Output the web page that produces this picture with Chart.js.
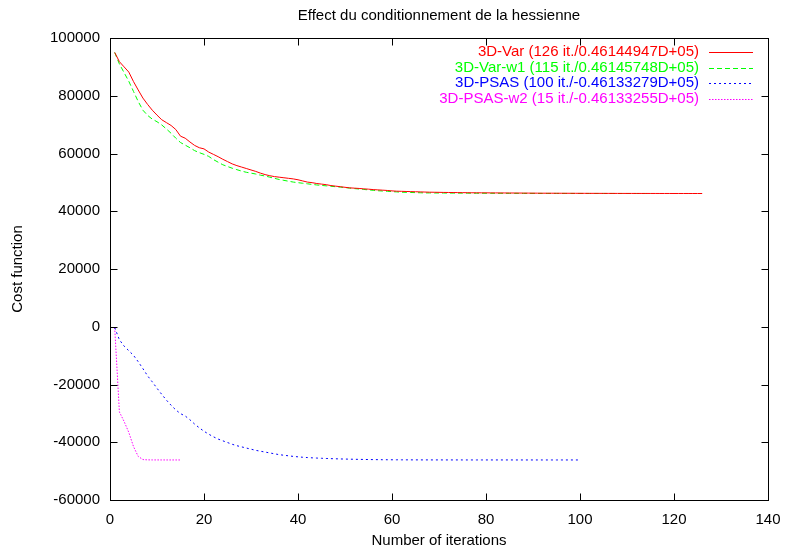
<!DOCTYPE html>
<html>
<head>
<meta charset="utf-8">
<script src="https://cdn.jsdelivr.net/npm/chart.js@4/dist/chart.umd.min.js"></script>
<style>
  body { margin: 0; background: #fff; }
  canvas { display: block; }
</style>
</head>
<body>
<canvas id="chart" width="787" height="550"></canvas>
<script>
// cost per iteration
const var3d = [95000, 91800, 90000, 88200, 84900, 82000, 79200, 77000, 75000, 73300,
  71700, 70700, 69700, 68300, 66000, 65300, 64000, 62800, 62000, 61600,
  60500, 59700, 58900, 58000, 57200, 56400, 55800, 55300, 54800, 54300,
  53800, 53200, 52700, 52300, 52000, 51800, 51600, 51400, 51200, 50900,
  50500, 50100, 49900, 49600, 49400, 49200, 48900, 48700, 48500, 48300,
  48100, 48000, 47900, 47750, 47650, 47500, 47400, 47300, 47200, 47050,
  46950, 46900, 46850, 46800, 46750, 46700, 46650, 46600, 46580, 46550,
  46520, 46500, 46480, 46460, 46440, 46420, 46400, 46390, 46380, 46370,
  46360, 46350, 46340, 46330, 46320, 46310, 46300, 46290, 46280, 46270,
  46260, 46250, 46245, 46240, 46235, 46230, 46225, 46220, 46215, 46210,
  46205, 46200, 46196, 46192, 46188, 46185, 46182, 46179, 46176, 46173,
  46170, 46168, 46166, 46164, 46162, 46160, 46158, 46156, 46154, 46152,
  46150, 46149, 46148, 46147, 46146, 46145];

const var3dW1 = [95000, 91000, 88000, 85000, 81500, 78000, 75000, 73200, 71900, 71000,
  69900, 68500, 67000, 65300, 63800, 62900, 62000, 61000, 60300, 59700,
  59000, 57900, 57000, 56100, 55500, 54900, 54400, 53900, 53500, 53200,
  52900, 52500, 52200, 51800, 51400, 51000, 50700, 50400, 50100, 49900,
  49700, 49500, 49300, 49100, 48950, 48800, 48650, 48500, 48350, 48200,
  48000, 47850, 47700, 47550, 47400, 47250, 47100, 47000, 46900, 46800,
  46700, 46600, 46550, 46500, 46450, 46400, 46350, 46340, 46330, 46320,
  46310, 46300, 46290, 46280, 46270, 46260, 46250, 46242, 46235, 46228,
  46222, 46216, 46210, 46205, 46200, 46196, 46192, 46188, 46185, 46182,
  46179, 46176, 46174, 46172, 46170, 46168, 46166, 46164, 46162, 46160,
  46159, 46158, 46157, 46156, 46155, 46154, 46153, 46152, 46151, 46150,
  46149, 46148, 46147, 46146.5, 46146];

const psas = [-300, -4500, -6700, -8300, -9900, -12100, -14500, -17000, -19100, -21300,
  -23400, -25400, -27200, -28800, -30100, -30900, -32200, -33700, -35000, -36200,
  -37200, -38100, -38900, -39500, -40100, -40700, -41200, -41600, -42000, -42400,
  -42800, -43100, -43400, -43700, -44000, -44300, -44500, -44700, -44900, -45050,
  -45200, -45300, -45400, -45480, -45550, -45620, -45680, -45730, -45780, -45820,
  -45860, -45900, -45930, -45960, -45990, -46010, -46030, -46050, -46060, -46070,
  -46080, -46088, -46095, -46100, -46105, -46109, -46112, -46115, -46117, -46119,
  -46121, -46122, -46123, -46124, -46125, -46126, -46127, -46127, -46128, -46128,
  -46129, -46129, -46130, -46130, -46130, -46131, -46131, -46131, -46131, -46132,
  -46132, -46132, -46132, -46132, -46133, -46133, -46133, -46133, -46133, -46133];

const psasW2 = [-300, -29500, -32800, -36600, -41500, -44900, -46000, -46100, -46120, -46125,
  -46130, -46131, -46132, -46133, -46133];

const labels = [
  '3D-Var (126 it./0.46144947D+05)',
  '3D-Var-w1 (115 it./0.46145748D+05)',
  '3D-PSAS (100 it./-0.46133279D+05)',
  '3D-PSAS-w2 (15 it./-0.46133255D+05)'
];
const colors = ['#ff0000', '#00ff00', '#0000ff', '#ff00ff'];
const dashes = [[], [5, 3], [2, 3], [1.5, 1.5]];

const xTicks = [0, 20, 40, 60, 80, 100, 120, 140];
const yTicks = [-60000, -40000, -20000, 0, 20000, 40000, 60000, 80000, 100000];

const FONT = '"Liberation Sans", Arial, sans-serif';

function pts(arr) {
  return arr.map((v, i) => ({x: i + 1, y: v}));
}

// gnuplot style frame with ticks pointing inwards, title and legend
const gnuplotLook = {
  id: 'gnuplotLook',
  afterDraw(chart) {
    const {ctx, chartArea: a, scales} = chart;
    const L = Math.round(a.left) + 0.5, R = Math.round(a.right) + 0.5;
    const T = Math.round(a.top) + 0.5, B = Math.round(a.bottom) + 0.5;
    ctx.save();
    ctx.strokeStyle = '#000';
    ctx.lineWidth = 1;
    ctx.setLineDash([]);
    ctx.strokeRect(L, T, R - L, B - T);
    ctx.beginPath();
    xTicks.forEach(v => {
      const px = Math.round(scales.x.getPixelForValue(v)) + 0.5;
      ctx.moveTo(px, B); ctx.lineTo(px, B - 7);
      ctx.moveTo(px, T); ctx.lineTo(px, T + 7);
    });
    yTicks.forEach(v => {
      const py = Math.round(scales.y.getPixelForValue(v)) + 0.5;
      ctx.moveTo(L, py); ctx.lineTo(L + 7, py);
      ctx.moveTo(R, py); ctx.lineTo(R - 7, py);
    });
    ctx.stroke();

    // title
    ctx.font = '15px ' + FONT;
    ctx.fillStyle = '#000';
    ctx.textAlign = 'center';
    ctx.textBaseline = 'middle';
    ctx.fillText('Effect du conditionnement de la hessienne', (a.left + a.right) / 2, 16);

    // legend
    ctx.textAlign = 'right';
    chart.data.datasets.forEach((ds, i) => {
      const y = a.top + 14 + i * 15.5;
      ctx.fillStyle = ds.borderColor;
      ctx.fillText(ds.label, a.right - 69, y);
      ctx.strokeStyle = ds.borderColor;
      ctx.setLineDash(ds.borderDash);
      ctx.beginPath();
      ctx.moveTo(a.right - 59, Math.round(y) + 0.5);
      ctx.lineTo(a.right - 15, Math.round(y) + 0.5);
      ctx.stroke();
    });
    ctx.restore();
  }
};

const series = [var3d, var3dW1, psas, psasW2];

const ctx = document.getElementById('chart').getContext('2d');
const chart = new Chart(ctx, {
  type: 'line',
  data: {
    datasets: series.map((s, i) => ({
      label: labels[i],
      data: pts(s),
      borderColor: colors[i],
      backgroundColor: colors[i],
      borderDash: dashes[i],
      borderWidth: 1,
      pointRadius: 0,
      fill: false,
      tension: 0
    }))
  },
  options: {
    responsive: false,
    animation: false,
    layout: { padding: { top: 38, right: 19, left: 9, bottom: 0 } },
    plugins: {
      legend: { display: false },
      title: { display: false },
      tooltip: { enabled: false }
    },
    scales: {
      x: {
        type: 'linear',
        min: 0,
        max: 140,
        afterFit(scale) {
          scale.height = 50;
          scale.paddingLeft = 0;
          scale.paddingRight = 0;
        },
        afterBuildTicks(scale) { scale.ticks = xTicks.map(v => ({value: v})); },
        grid: { display: false, drawTicks: false },
        border: { display: false },
        ticks: { padding: 11, color: '#000', font: { family: FONT, size: 15 }, maxRotation: 0 },
        title: { display: true, text: 'Number of iterations', color: '#000',
                 font: { family: FONT, size: 15 }, padding: { top: 0, bottom: 0 } }
      },
      y: {
        type: 'linear',
        min: -60000,
        max: 100000,
        afterFit(scale) { scale.width = 101; },
        afterBuildTicks(scale) { scale.ticks = yTicks.map(v => ({value: v})); },
        grid: { display: false, drawTicks: false },
        border: { display: false },
        ticks: { padding: 10, color: '#000', font: { family: FONT, size: 15 },
                 callback: v => String(v) },
        title: { display: true, text: 'Cost function', color: '#000',
                 font: { family: FONT, size: 15 }, padding: { top: 0, bottom: 0 } }
      }
    }
  },
  plugins: [gnuplotLook]
});
</script>
</body>
</html>
